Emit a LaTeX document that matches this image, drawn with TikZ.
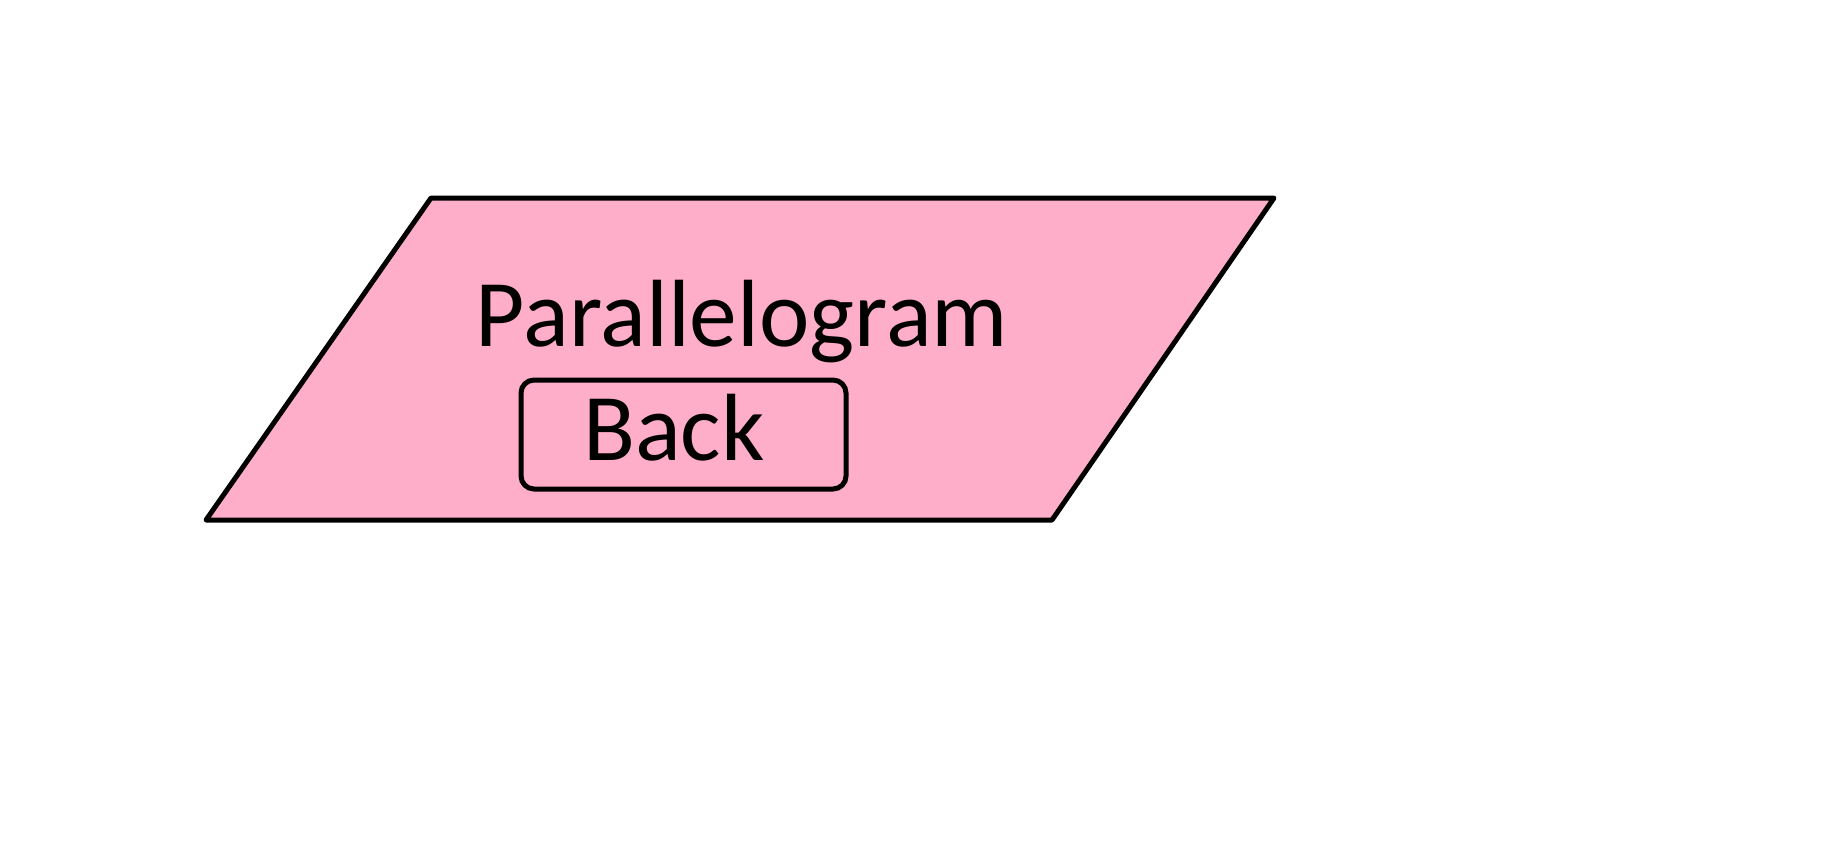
\documentclass[tikz,border=0pt]{standalone}
\usepackage{fontspec}
\setmainfont{Carlito}
\definecolor{shapepink}{RGB}{255,174,201}
\begin{document}
\begin{tikzpicture}[x=1pt,y=-1pt,
  outline/.style={draw=black,line width=5pt,line join=round},
  bigtext/.style={font=\fontsize{95.5}{114}\selectfont,inner sep=0pt},
  buttonbox/.style={draw=black,line width=5pt,rounded corners=13pt,minimum width=325pt,minimum height=109pt,inner sep=0pt}]
\useasboundingbox (0,0) rectangle (1827,854);
\coordinate (tl) at (431,198);
\coordinate (tr) at (1274,198);
\coordinate (br) at (1052,520);
\coordinate (bl) at (206,520);
\filldraw[outline,fill=shapepink] (tl) -- (tr) -- (br) -- (bl) -- cycle;
\node[bigtext,anchor=base] (title) at (742,346) {Parallelogram};
\node[buttonbox] (backbox) at (683.5,434.5) {};
\node[bigtext,anchor=base] (backlabel) at (674,460) {Back};
\end{tikzpicture}
\end{document}
